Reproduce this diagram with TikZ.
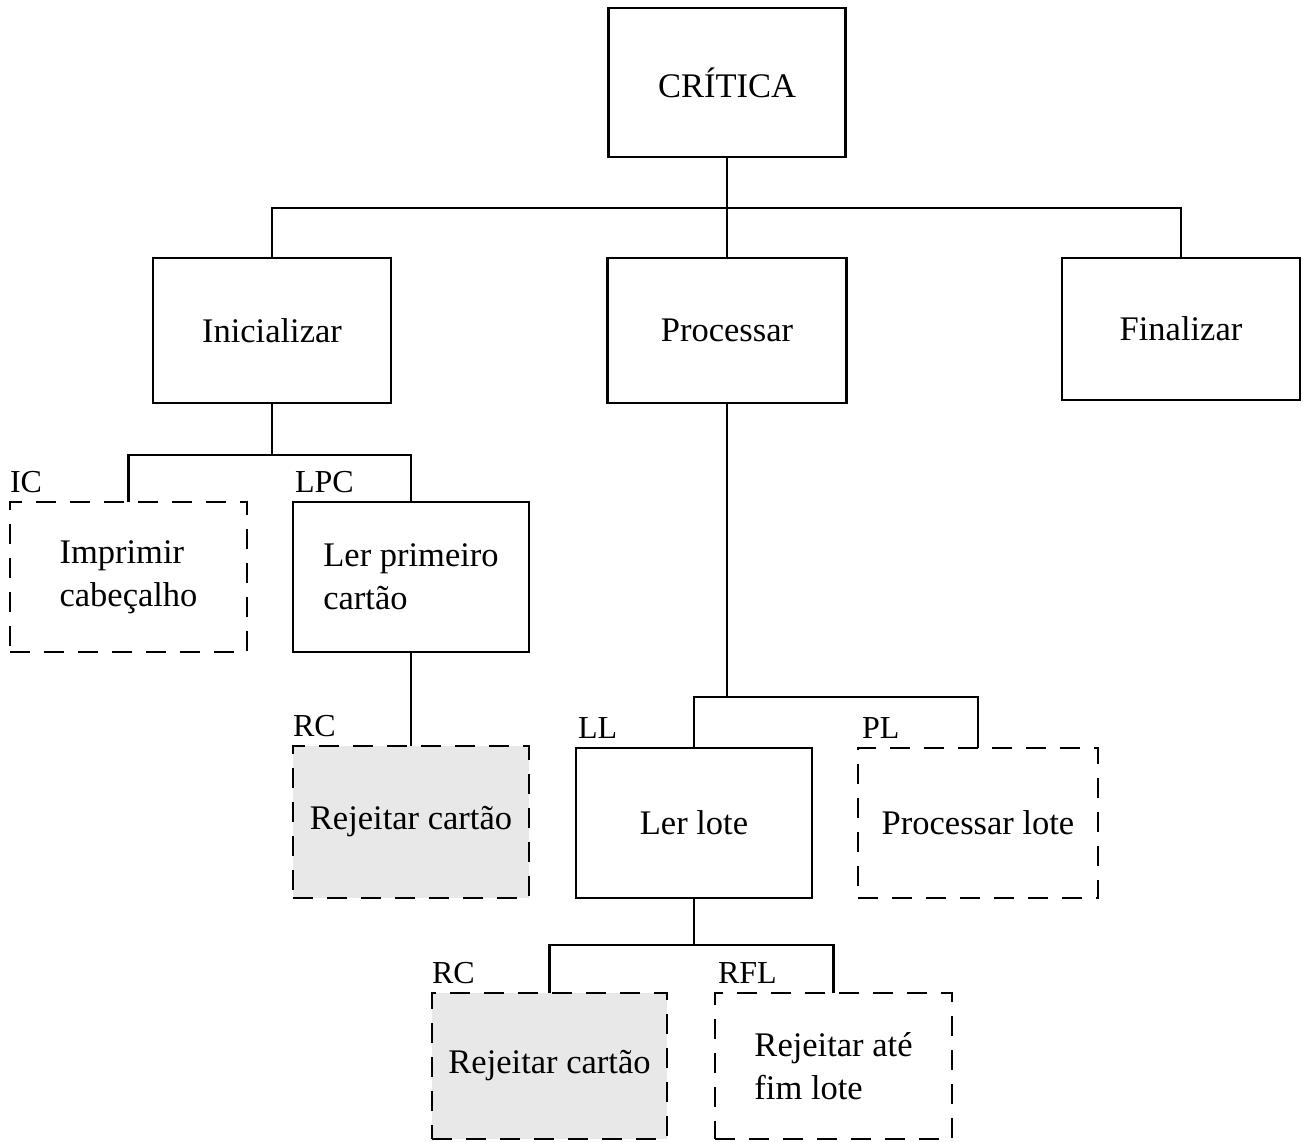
\documentclass[tikz,border=0pt]{standalone}
\usepackage{fontspec}
\setmainfont{Liberation Serif}
\begin{document}
\begin{tikzpicture}[x=1pt,y=-1pt,
  every node/.style={inner sep=0pt, outer sep=0pt},
  box/.style={draw, line width=2.1pt, line join=miter,
    font=\fontsize{34.5}{43}\selectfont, align=left},
  solidbox/.style={box},
  dashbox/.style={box, dash pattern=on 20pt off 14pt},
  shadebox/.style={dashbox, fill=black!9},
  lbl/.style={font=\fontsize{32}{36}\selectfont, anchor=base west},
  link/.style={line width=2.1pt}]
\useasboundingbox (0,0) rectangle (1303,1142);

% top level
\node[solidbox, minimum width=237pt, minimum height=149pt] (crit) at (727,82.5) {CRÍTICA};
\node[solidbox, minimum width=238pt, minimum height=145pt] (ini) at (272,330.5) {Inicializar};
\node[solidbox, minimum width=239pt, minimum height=145pt] (proc) at (727,330.5) {Processar};
\node[solidbox, minimum width=238pt, minimum height=142pt] (fin) at (1181,329) {Finalizar};

% children of Inicializar
\node[dashbox, minimum width=237pt, minimum height=150pt] (ic) at (128.5,577) {Imprimir\\cabeçalho};
\node[solidbox, minimum width=236pt, minimum height=150pt] (lpc) at (411,577) {Ler primeiro\\cartão};
\node[shadebox, minimum width=236pt, minimum height=152pt] (rc1) at (411,822) {Rejeitar cartão};

% children of Processar
\node[solidbox, minimum width=236pt, minimum height=150pt] (ll) at (694,823) {Ler lote};
\node[dashbox, minimum width=240pt, minimum height=150pt] (pl) at (978,823) {Processar lote};

% children of Ler lote
\node[shadebox, minimum width=235pt, minimum height=146pt] (rc2) at (549.5,1066) {Rejeitar cartão};
\node[dashbox, minimum width=237pt, minimum height=146pt] (rfl) at (833.5,1066) {Rejeitar até\\fim lote};

% module labels
\node[lbl] (icl) at ([yshift=10pt]ic.north west) {IC};
\node[lbl] (lpcl) at ([xshift=2pt,yshift=10pt]lpc.north west) {LPC};
\node[lbl] (rc1l) at ([yshift=10pt]rc1.north west) {RC};
\node[lbl] (lll) at ([xshift=2pt,yshift=10pt]ll.north west) {LL};
\node[lbl] (pll) at ([xshift=4pt,yshift=10pt]pl.north west) {PL};
\node[lbl] (rc2l) at ([yshift=10pt]rc2.north west) {RC};
\node[lbl] (rfll) at ([xshift=3pt,yshift=10pt]rfl.north west) {RFL};

% connectors
\draw[link] (crit.south) -- (proc.north);
\draw[link] (ini.north) -- (ini.north |- 0,208) -| (fin.north);

\draw[link] (ini.south) -- (ini.south |- 0,455);
\draw[link] (ic.north) -- (ic.north |- 0,455) -| (lpc.north);
\draw[link] (lpc.south) -- (rc1.north);

\draw[link] (proc.south) -- (proc.south |- 0,697);
\draw[link] (ll.north) -- (ll.north |- 0,697) -| (pl.north);

\draw[link] (ll.south) -- (ll.south |- 0,945);
\draw[link] (rc2.north) -- (rc2.north |- 0,945) -| (rfl.north);
\end{tikzpicture}
\end{document}
